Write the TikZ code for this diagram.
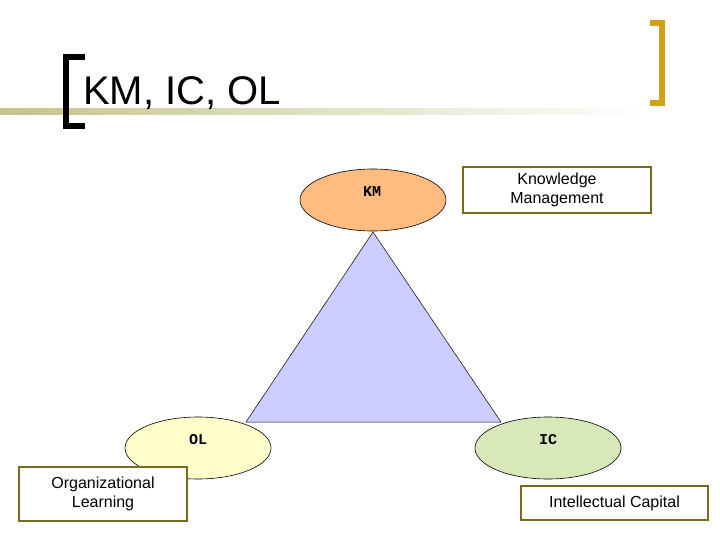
\documentclass[tikz,border=0pt]{standalone}
\usepackage{fontspec}
\setmainfont{Liberation Sans}
\newfontfamily\monob{Liberation Mono}
\usetikzlibrary{shapes.geometric}
\definecolor{boxb}{HTML}{7A6A20}
\definecolor{gold}{HTML}{D4A017}
\definecolor{bar}{HTML}{C4C48A}
\tikzset{
 ell/.style={ellipse,draw=black,line width=0.6pt,minimum width=146pt,minimum height=62pt,inner sep=0pt},
 lab/.style={font=\monob\bfseries\fontsize{15}{15}\selectfont,anchor=center},
 txtbox/.style={draw=boxb,line width=1.6pt,fill=white,align=center,font=\fontsize{16}{19}\selectfont,inner sep=0pt}
}
\begin{document}
\begin{tikzpicture}[x=1pt,y=-1pt]
\useasboundingbox (0,0) rectangle (720,540);
\shade[left color=bar,right color=white] (0,109) rectangle (650,115);
\draw[line width=6pt] (85,57) -- (66,57) -- (66,126) -- (85,126);
\draw[gold,line width=6pt] (650,23) -- (662,23) -- (662,103) -- (650,103);
\node[anchor=base west,font=\fontsize{40}{40}\selectfont,inner sep=0pt] (title) at (83,105) {KM, IC, OL};
\node[ell,fill={rgb,255:red,255;green,187;blue,128}] (km) at (373,200) {};
\node[ell,fill={rgb,255:red,255;green,255;blue,204}] (ol) at (198,448) {};
\node[ell,fill={rgb,255:red,216;green,232;blue,184}] (ic) at (548,448) {};
\coordinate (a) at (373,232);
\coordinate (b) at (246,422);
\coordinate (c) at (501,422);
\filldraw[fill={rgb,255:red,204;green,204;blue,255},draw=black,line width=0.5pt] (a) -- (b) -- (c) -- cycle;
\node[lab] (kmt) at (372,192) {KM};
\node[lab] (olt) at (198,440) {OL};
\node[lab] (ict) at (548,440) {IC};
\node[txtbox,minimum width=188pt,minimum height=46pt] (kmb) at (557,190) {Knowledge\\Management};
\node[txtbox,minimum width=168pt,minimum height=54pt] (olb) at (103,494) {Organizational\\Learning};
\node[txtbox,minimum width=187pt,minimum height=34pt] (icb) at (614.5,503) {Intellectual Capital};
\end{tikzpicture}
\end{document}
